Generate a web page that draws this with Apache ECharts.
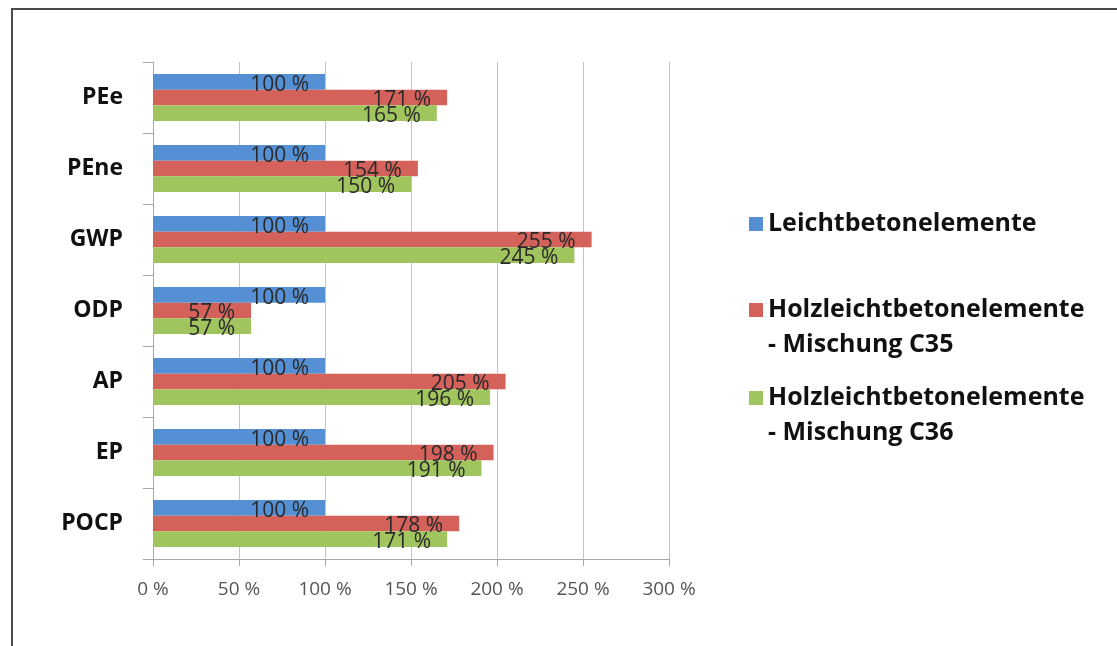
<!DOCTYPE html>
<html>
<head>
<meta charset="utf-8">
<script src="https://cdn.jsdelivr.net/npm/echarts@6/dist/echarts.min.js"></script>
<style>
  html, body { margin: 0; padding: 0; background: #fff; }
  #chart { width: 1117px; height: 646px; }
</style>
</head>
<body>
<div id="chart"></div>
<script>
// Impact categories (top to bottom)
const categories = ['PEe', 'PEne', 'GWP', 'ODP', 'AP', 'EP', 'POCP'];

// Series names
const seriesNames = [
  'Leichtbetonelemente',
  'Holzleichtbetonelemente - Mischung C35',
  'Holzleichtbetonelemente - Mischung C36'
];

// Relative values in percent
const leichtbeton = [100, 100, 100, 100, 100, 100, 100];
const holzC35 = [171, 154, 255, 57, 205, 198, 178];
const holzC36 = [165, 150, 245, 57, 196, 191, 171];

// Axis ticks
const axisMin = 0;
const axisMax = 300;
const axisStep = 50;

const colors = ['#5590d4', '#d4625b', '#a0c45e'];
const seriesData = [leichtbeton, holzC35, holzC36];

const chart = echarts.init(document.getElementById('chart'), null, { renderer: 'canvas' });

const labelFont = '"Open Sans", Lato, sans-serif';

// Two-line legend label, first line aligned with the colour square
function legendText(name) {
  const i = name.indexOf(' - ');
  if (i < 0) return name;
  return '\n' + name.slice(0, i) + '\n' + name.slice(i + 1);
}

function makeLegend(name, top) {
  return {
    data: [{ name: name, icon: 'rect' }],
    left: 749,
    top: top,
    orient: 'vertical',
    padding: 0,
    itemWidth: 14,
    itemHeight: 14,
    selectedMode: false,
    formatter: legendText,
    textStyle: {
      fontFamily: labelFont,
      fontWeight: 'bold',
      fontSize: 25,
      lineHeight: 35,
      color: '#111'
    }
  };
}

const option = {
  animation: false,
  backgroundColor: '#fff',
  color: colors,
  graphic: [{
    type: 'rect',
    shape: { x: 12, y: 9, width: 1200, height: 800 },
    style: { fill: 'none', stroke: '#4a4a4a', lineWidth: 2 },
    silent: true
  }],
  legend: [
    makeLegend(seriesNames[0], 224 - 17.5),
    makeLegend(seriesNames[1], 310 - 52.5),
    makeLegend(seriesNames[2], 398 - 52.5)
  ],
  grid: { left: 153, right: 448, top: 62, bottom: 87, containLabel: false },
  xAxis: {
    type: 'value',
    min: axisMin,
    max: axisMax,
    interval: axisStep,
    axisLine: { show: true, lineStyle: { color: '#a8a8a8', width: 1 } },
    axisTick: { show: true, length: 7, lineStyle: { color: '#a8a8a8' } },
    splitLine: { show: true, lineStyle: { color: '#c4c4c4', width: 1 } },
    axisLabel: {
      formatter: '{value} %',
      color: '#555',
      fontFamily: labelFont,
      fontSize: 19,
      margin: 21
    }
  },
  yAxis: {
    type: 'category',
    inverse: true,
    data: categories,
    axisLine: { show: true, lineStyle: { color: '#a8a8a8', width: 1 } },
    axisTick: { show: true, length: 10, lineStyle: { color: '#a8a8a8' } },
    axisLabel: {
      color: '#111',
      fontFamily: labelFont,
      fontWeight: 'bold',
      fontSize: 23,
      margin: 30
    }
  },
  series: seriesNames.map((name, idx) => ({
    name: name,
    type: 'bar',
    data: seriesData[idx],
    barGap: '0%',
    barCategoryGap: '34%',
    itemStyle: { color: colors[idx] },
    label: {
      show: true,
      position: 'insideRight',
      distance: 16,
      offset: [0, 3],
      formatter: '{c} %',
      color: '#2a2a2a',
      fontFamily: labelFont,
      fontSize: 21
    }
  }))
};

chart.setOption(option);
</script>
</body>
</html>
